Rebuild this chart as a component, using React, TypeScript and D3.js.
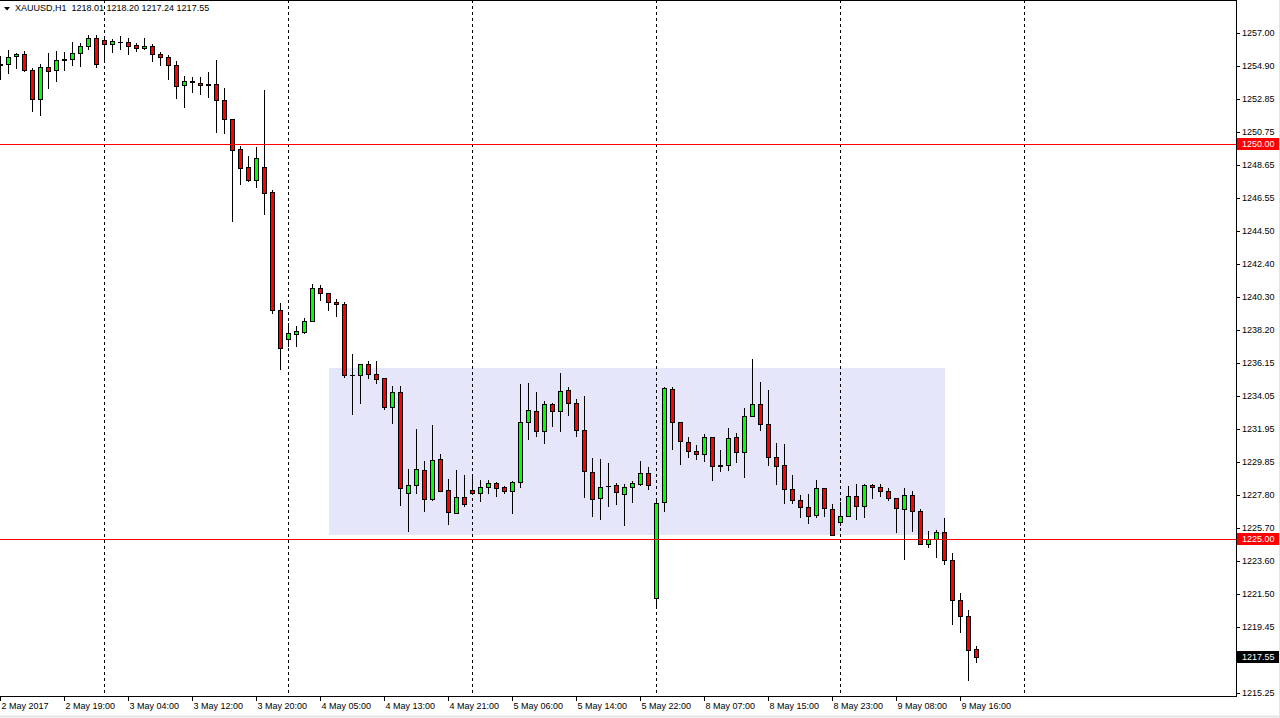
import React from 'react';
import * as d3 from 'd3';

// ---- header ----
const symbolInfo = 'XAUUSD,H1';
const lastOHLC = ['1218.01', '1218.20', '1217.24', '1217.55'];

// ---- hourly candles (oldest -> newest) ----
const opens = [
  1255.00, 1255.02, 1255.53, 1255.65, 1254.64, 1252.81, 1254.83, 1254.64, 1255.27, 1255.34,
  1255.72, 1256.16, 1256.66, 1256.54, 1256.29, 1256.43, 1256.41, 1256.24, 1256.03, 1256.16,
  1255.67, 1255.46, 1254.96, 1253.69, 1253.92, 1253.84, 1253.76, 1253.76, 1252.76, 1251.54,
  1249.64, 1248.51, 1247.72, 1248.51, 1246.92, 1239.48, 1237.66, 1237.98, 1238.11, 1238.77,
  1240.85, 1240.54, 1239.97, 1239.84, 1235.39, 1235.39, 1236.05, 1235.41, 1235.16, 1233.36,
  1234.27, 1227.92, 1228.39, 1229.34, 1227.53, 1230.04, 1228.08, 1226.66, 1227.65, 1228.08,
  1227.92, 1228.30, 1228.52, 1228.27, 1228.01, 1228.58, 1232.38, 1233.07, 1231.81, 1233.53,
  1233.07, 1234.40, 1233.58, 1231.87, 1229.21, 1227.57, 1228.33, 1228.39, 1227.86, 1228.27,
  1228.49, 1229.15, 1221.28, 1227.32, 1234.46, 1232.38, 1231.11, 1230.54, 1230.35, 1231.43,
  1229.63, 1229.66, 1231.43, 1230.48, 1232.76, 1233.52, 1232.25, 1230.16, 1229.66, 1228.14,
  1227.44, 1227.00, 1226.50, 1228.20, 1226.87, 1226.05, 1226.43, 1227.70, 1227.06, 1228.39,
  1228.27, 1228.01, 1227.57, 1226.87, 1227.76, 1226.75, 1224.66, 1224.98, 1225.42, 1223.65,
  1221.12, 1220.11, 1218.01,
];
const highs = [
  1255.55, 1255.92, 1255.72, 1255.88, 1254.77, 1255.04, 1255.75, 1255.84, 1255.78, 1256.45,
  1256.35, 1256.87, 1256.87, 1256.73, 1256.62, 1256.79, 1256.70, 1256.35, 1256.70, 1256.30,
  1255.78, 1255.61, 1255.21, 1254.28, 1254.24, 1254.24, 1254.53, 1255.29, 1253.50, 1251.58,
  1249.85, 1249.22, 1249.77, 1253.39, 1247.07, 1239.94, 1238.68, 1238.47, 1238.99, 1241.12,
  1241.06, 1240.54, 1240.18, 1239.97, 1236.70, 1236.05, 1236.25, 1236.25, 1235.16, 1234.65,
  1234.65, 1229.40, 1231.95, 1229.93, 1232.21, 1230.37, 1228.79, 1229.36, 1229.04, 1229.02,
  1228.73, 1228.73, 1228.58, 1228.35, 1228.66, 1234.78, 1234.84, 1234.27, 1233.72, 1233.62,
  1235.50, 1234.61, 1233.85, 1234.04, 1230.10, 1230.04, 1229.78, 1228.52, 1228.46, 1228.64,
  1229.91, 1229.53, 1227.54, 1234.59, 1234.59, 1232.38, 1231.43, 1230.92, 1231.62, 1231.43,
  1230.61, 1232.00, 1231.68, 1233.26, 1236.36, 1234.91, 1234.40, 1231.05, 1230.99, 1229.02,
  1227.76, 1227.82, 1228.71, 1228.20, 1227.19, 1227.32, 1228.33, 1228.46, 1228.46, 1228.46,
  1228.46, 1228.20, 1227.57, 1228.20, 1228.01, 1226.87, 1225.48, 1225.55, 1226.30, 1224.09,
  1221.56, 1220.49, 1218.20,
];
const lows = [
  1254.09, 1254.49, 1254.81, 1254.62, 1252.09, 1251.83, 1253.54, 1253.98, 1254.66, 1254.96,
  1254.93, 1255.97, 1254.87, 1255.37, 1255.80, 1256.01, 1255.69, 1255.88, 1255.97, 1255.25,
  1254.96, 1254.09, 1252.91, 1252.34, 1253.27, 1253.16, 1252.97, 1250.72, 1250.69, 1245.13,
  1247.47, 1247.66, 1247.28, 1245.55, 1239.27, 1235.77, 1237.22, 1237.22, 1238.04, 1238.77,
  1240.11, 1239.48, 1239.12, 1235.26, 1232.90, 1233.62, 1235.20, 1234.88, 1233.22, 1232.35,
  1227.15, 1225.52, 1227.92, 1226.79, 1227.46, 1228.03, 1225.94, 1226.66, 1227.10, 1227.85,
  1227.42, 1227.89, 1227.73, 1227.89, 1226.67, 1228.30, 1231.34, 1231.51, 1231.09, 1232.16,
  1231.85, 1232.86, 1231.53, 1227.67, 1226.47, 1226.28, 1227.10, 1227.23, 1225.90, 1227.36,
  1228.39, 1228.18, 1220.66, 1226.79, 1230.71, 1229.76, 1230.20, 1230.04, 1229.95, 1228.75,
  1229.32, 1229.34, 1229.89, 1228.94, 1232.76, 1231.87, 1229.70, 1228.49, 1227.29, 1227.29,
  1226.37, 1225.99, 1226.37, 1226.47, 1225.23, 1225.86, 1226.43, 1226.24, 1226.37, 1227.57,
  1227.70, 1227.44, 1225.42, 1223.71, 1225.48, 1224.66, 1224.47, 1223.84, 1223.40, 1219.60,
  1219.09, 1216.10, 1217.24,
];
const closes = [
  1255.05, 1255.50, 1255.65, 1254.64, 1252.81, 1254.83, 1254.58, 1255.27, 1255.34, 1255.72,
  1256.16, 1256.66, 1255.02, 1256.29, 1256.48, 1256.45, 1256.18, 1256.03, 1256.16, 1255.65,
  1255.46, 1254.96, 1253.67, 1253.96, 1253.94, 1253.69, 1253.70, 1252.76, 1251.54, 1249.62,
  1248.48, 1247.72, 1249.07, 1246.90, 1239.46, 1237.06, 1238.01, 1238.13, 1238.78, 1240.85,
  1240.54, 1239.97, 1239.84, 1235.37, 1235.37, 1236.05, 1235.45, 1235.13, 1233.34, 1234.27,
  1228.24, 1228.41, 1229.40, 1227.54, 1229.97, 1228.05, 1226.72, 1227.63, 1227.23, 1227.92,
  1228.27, 1228.52, 1228.24, 1228.01, 1228.58, 1232.38, 1233.14, 1231.81, 1233.53, 1233.07,
  1234.34, 1233.58, 1231.87, 1229.28, 1227.51, 1228.27, 1228.35, 1227.95, 1228.27, 1228.52,
  1229.15, 1228.39, 1227.29, 1234.53, 1232.38, 1231.17, 1230.54, 1230.35, 1231.43, 1229.63,
  1229.65, 1231.37, 1230.48, 1232.76, 1233.52, 1232.25, 1230.16, 1229.59, 1228.14, 1227.44,
  1227.00, 1226.43, 1228.20, 1226.94, 1225.23, 1226.43, 1227.70, 1227.06, 1228.39, 1228.27,
  1228.01, 1227.57, 1226.94, 1227.76, 1226.75, 1224.66, 1224.98, 1225.42, 1223.65, 1221.12,
  1220.11, 1217.96, 1217.55,
];

// ---- time axis: one label every 8 bars ----
const timeLabels = [
  '2 May 2017', '2 May 19:00', '3 May 04:00', '3 May 12:00', '3 May 20:00', '4 May 05:00',
  '4 May 13:00', '4 May 21:00', '5 May 06:00', '5 May 14:00', '5 May 22:00', '8 May 07:00',
  '8 May 15:00', '8 May 23:00', '9 May 08:00', '9 May 16:00',
];
const timeLabelStep = 8;
const gridBars = [13, 36, 59, 82, 105, 128];

// ---- price axis ----
const priceTicks = [
  1257.0, 1254.9, 1252.85, 1250.75, 1248.65, 1246.55, 1244.5, 1242.4, 1240.3, 1238.2,
  1236.15, 1234.05, 1231.95, 1229.85, 1227.8, 1225.7, 1223.6, 1221.5, 1219.45, 1217.35, 1215.25,
];
const levelLines = [1250.0, 1225.0];
const lastPrice = 1217.55;

// ---- range rectangle (bar index / price) ----
const zoneBars = [41, 118];
const zonePrices = [1225.25, 1235.81];

const FONT = '"Liberation Sans", Arial, sans-serif';

export default function App() {
  const W = 1280;
  const H = 718;
  const plotRight = 1236;
  const plotBottom = 696;

  const x = d3.scaleLinear().domain([0, 1]).range([0.5, 8.5]);
  const y = d3.scaleLinear().domain([1215.065, 1259.087]).range([plotBottom, 0]);
  const py = (v: number) => Math.round(y(v)) + 0.5;

  const candles = opens.map((o, i) => ({ o, h: highs[i], l: lows[i], c: closes[i], i }));

  // labels hidden behind a price box in the original are not drawn
  const boxedValues = [...levelLines, lastPrice];
  const isCovered = (v: number) => boxedValues.some((b) => Math.abs(y(b) - y(v)) < 10);

  return (
    <svg
      width={W}
      height={H}
      style={{ position: 'fixed', left: 0, top: 0, background: '#fff' }}
      fontFamily={FONT}
    >
      <rect x={0} y={0} width={W} height={H} fill="#fff" />

      {/* range rectangle */}
      <rect
        x={Math.round(x(zoneBars[0]))}
        y={Math.round(y(zonePrices[1]))}
        width={Math.round(x(zoneBars[1])) - Math.round(x(zoneBars[0]))}
        height={Math.round(y(zonePrices[0])) - Math.round(y(zonePrices[1]))}
        fill="#E6E6FA"
      />

      {/* vertical dashed grid */}
      {gridBars.map((b) => (
        <line
          key={'g' + b}
          x1={x(b)}
          x2={x(b)}
          y1={0}
          y2={plotBottom}
          stroke="#000"
          strokeWidth={1}
          strokeDasharray="3,3"
          shapeRendering="crispEdges"
        />
      ))}

      {/* candles */}
      <g shapeRendering="crispEdges">
        {candles.map((d) => {
          const cx = x(d.i);
          const top = py(Math.max(d.o, d.c));
          const bot = py(Math.min(d.o, d.c));
          const fill = d.c > d.o ? '#00FF00' : d.c < d.o ? '#FF0000' : '#000';
          return (
            <g key={'c' + d.i}>
              <line x1={cx} x2={cx} y1={Math.round(y(d.h))} y2={Math.round(y(d.l)) + 1} stroke="#000" strokeWidth={1} />
              <rect
                x={cx - 2}
                y={top}
                width={4}
                height={Math.max(bot - top, 0.01)}
                fill={fill}
                stroke="#000"
                strokeWidth={1}
              />
            </g>
          );
        })}
      </g>

      {/* horizontal level lines */}
      {levelLines.map((v) => (
        <line
          key={'l' + v}
          x1={0}
          x2={plotRight}
          y1={py(v)}
          y2={py(v)}
          stroke="#FF0000"
          strokeWidth={1}
          shapeRendering="crispEdges"
        />
      ))}

      {/* plot frame */}
      <g stroke="#000" strokeWidth={1} shapeRendering="crispEdges">
        <line x1={0} x2={plotRight + 0.5} y1={0.5} y2={0.5} />
        <line x1={0} x2={plotRight + 0.5} y1={plotBottom + 0.5} y2={plotBottom + 0.5} />
        <line x1={plotRight + 0.5} x2={plotRight + 0.5} y1={0} y2={plotBottom + 1} />
      </g>

      {/* price axis */}
      <g fontSize={9} fill="#000">
        {priceTicks.map((v) => (
          <g key={'p' + v}>
            <line
              x1={plotRight}
              x2={plotRight + 4}
              y1={py(v)}
              y2={py(v)}
              stroke="#000"
              shapeRendering="crispEdges"
            />
            {!isCovered(v) || levelLines.includes(v) ? null : null}
            {isCovered(v) ? null : (
              <text x={plotRight + 6} y={y(v)} dominantBaseline="central">
                {v.toFixed(2)}
              </text>
            )}
          </g>
        ))}
      </g>

      {/* level labels */}
      {levelLines.map((v) => (
        <g key={'lb' + v}>
          <rect x={plotRight + 1} y={Math.round(y(v)) - 6} width={W - plotRight - 1} height={12} fill="#FF0000" />
          <text x={plotRight + 6} y={y(v)} dominantBaseline="central" fontSize={9} fill="#fff">
            {v.toFixed(2)}
          </text>
        </g>
      ))}
      <g>
        <rect x={plotRight + 1} y={Math.round(y(lastPrice)) - 6} width={W - plotRight - 1} height={12} fill="#000" />
        <text x={plotRight + 6} y={y(lastPrice)} dominantBaseline="central" fontSize={9} fill="#fff">
          {lastPrice.toFixed(2)}
        </text>
      </g>

      {/* time axis */}
      <g fontSize={9} fill="#000">
        {timeLabels.map((t, k) => {
          const tx = x(k * timeLabelStep);
          return (
            <g key={'t' + k}>
              <line
                x1={tx}
                x2={tx}
                y1={plotBottom}
                y2={plotBottom + 5}
                stroke="#000"
                shapeRendering="crispEdges"
              />
              <text x={tx + 1} y={706} dominantBaseline="central">
                {t}
              </text>
            </g>
          );
        })}
      </g>

      {/* bottom / right window edges */}
      <line x1={0} x2={W} y1={716.5} y2={716.5} stroke="#e4e4e4" strokeWidth={2} />
      <line x1={1279.5} x2={1279.5} y1={0} y2={H} stroke="#e4e4e4" strokeWidth={1} />

      {/* header */}
      <path d="M4,7 L10,7 L7,10.5 Z" fill="#000" />
      <text x={15} y={8} fontSize={9} fill="#000" dominantBaseline="central" style={{ whiteSpace: 'pre' }}>
        {symbolInfo + '  ' + lastOHLC.join(' ')}
      </text>
    </svg>
  );
}
